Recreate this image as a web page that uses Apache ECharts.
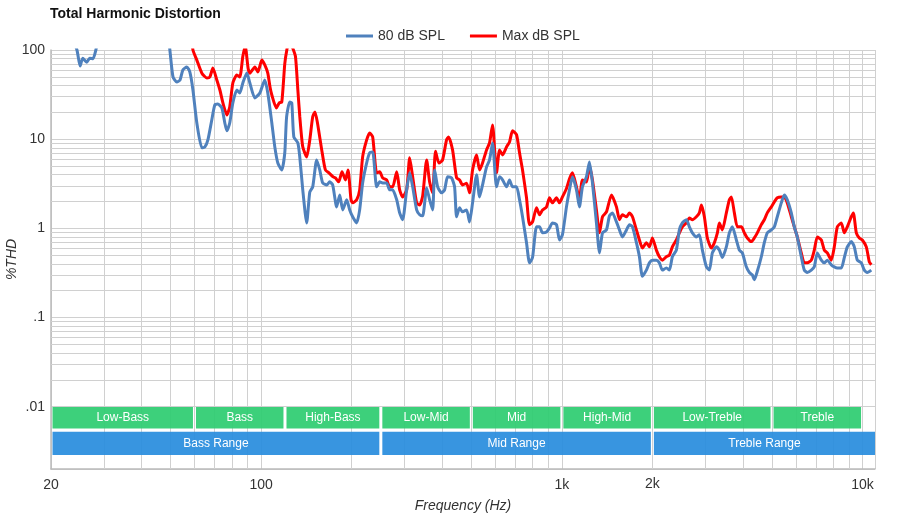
<!DOCTYPE html>
<html><head><meta charset="utf-8">
<script src="https://cdn.jsdelivr.net/npm/echarts@6/dist/echarts.min.js"></script>
<style>html,body{margin:0;padding:0;background:#fff}#c{width:900px;height:520px}</style>
</head><body><div id="c"></div>
<script>
const chartTitle = 'Total Harmonic Distortion';
const seriesNames = ['80 dB SPL', 'Max dB SPL'];
const xName = 'Frequency (Hz)';
const yName = '%THD';

// [frequency Hz, THD %]
const spl80 = [[20,400],[22,250],[23.5,140],[24.4,100],[25.0,66],[25.5,81],[26.3,73],[26.9,81],[27.6,80],[28.2,100],[29,150],[35,300],[45,300],[49,150],[49.7,100],[50.9,50],[52.4,43.8],[53.7,46],[54.9,59.7],[56.6,64.5],[57.9,56.7],[59.3,35.6],[61.1,15.2],[63.5,8.0],[65.0,8.2],[66.5,9.8],[68.5,16.4],[70.1,24.2],[71.7,24.8],[74.0,22.4],[75.7,15.2],[76.9,12.4],[78.6,15.2],[80.5,25.5],[83.0,35.6],[84.9,33.0],[86.9,42.7],[89.6,55.3],[91.7,42.7],[95.3,29.0],[99.0,33.0],[102.8,46.1],[105.2,33.0],[108.5,15.2],[111.0,8.2],[113.6,5.4],[117.1,4.5],[119.8,7.0],[121.5,17.8],[124.5,26.1],[126.4,25.5],[128.4,10.6],[132.4,9.1],[134.4,6.3],[137.5,2.7],[141.7,1.15],[145.1,2.56],[148.4,2.92],[153.0,5.85],[156.6,4.52],[160.2,3.23],[165.2,3.07],[169.0,3.32],[172.9,3.07],[178.3,1.74],[182.5,2.37],[186.7,1.61],[192.5,2.09],[197.0,1.61],[201.5,1.35],[207.8,1.15],[212.6,1.61],[217.5,3.23],[224.3,5.42],[229.5,7.02],[234.9,7.2],[242.1,2.92],[247.8,3.32],[253.5,3.23],[261.4,3.23],[267.5,2.7],[273.7,2.7],[282.3,2.09],[288.8,1.49],[295.5,1.25],[304.7,2.7],[311.8,4.19],[319.0,2.92],[328.9,1.61],[336.6,1.42],[344.4,1.38],[355.1,2.84],[363.3,2.09],[371.8,1.61],[377.5,4.52],[386.3,2.92],[398.1,2.5],[407.4,2.7],[416.8,3.78],[429.8,3.68],[439.8,2.92],[446.5,1.35],[456.9,1.7],[467.5,1.53],[482.0,1.61],[493.2,1.18],[504.7,1.93],[520.4,3.98],[532.4,2.25],[544.8,3.07],[561.8,4.89],[574.8,5.85],[588.1,9.08],[606.4,2.92],[620.5,3.78],[634.9,3.49],[654.6,2.92],[669.8,3.49],[685.4,2.92],[706.7,2.92],[723.1,2.09],[739.9,1.35],[762.9,0.69],[780.6,0.41],[798.7,0.47],[823.6,1.04],[842.7,1.04],[862.3,0.89],[888.9,0.91],[909.6,1.01],[930.7,1.15],[959.6,1.1],[981.9,0.74],[1004.6,0.85],[1035.9,1.74],[1060,2.7],[1084.5,3.78],[1118.3,2.7],[1144,1.74],[1170.6,2.92],[1207,3.78],[1235,5.56],[1264,3.23],[1303,1.15],[1334,0.53],[1365,0.89],[1407,0.96],[1440,1.38],[1473,1.49],[1519,1.18],[1554,0.96],[1590,0.8],[1640,0.96],[1678,1.1],[1717,1.04],[1770,0.69],[1811,0.48],[1853,0.29],[1910,0.34],[1955,0.41],[2000,0.44],[2062,0.44],[2110,0.41],[2159,0.34],[2226,0.36],[2278,0.34],[2331,0.48],[2403,0.57],[2459,0.96],[2516,1.15],[2595,1.25],[2655,1.04],[2717,0.89],[2801,0.8],[2866,0.85],[2933,0.57],[3024,0.37],[3094,0.34],[3166,0.53],[3265,0.62],[3340,0.57],[3418,0.47],[3524,0.62],[3606,0.89],[3690,1.04],[3805,0.74],[3893,0.57],[3983,0.53],[4107,0.37],[4202,0.32],[4300,0.3],[4366,0.265],[4467,0.33],[4606,0.48],[4713,0.69],[4822,0.89],[4972,0.96],[5088,1.04],[5206,1.35],[5367,1.93],[5492,2.37],[5619,2.09],[5795,1.49],[5930,1.04],[6067,0.8],[6256,0.48],[6402,0.34],[6550,0.32],[6754,0.34],[6911,0.37],[7072,0.53],[7292,0.44],[7461,0.41],[7635,0.44],[7873,0.39],[8055,0.37],[8242,0.36],[8499,0.36],[8697,0.47],[8898,0.62],[9175,0.71],[9389,0.62],[9607,0.44],[9906,0.41],[10135,0.34],[10370,0.32],[10693,0.34]];

const splMax = [[56,300],[58.5,160],[59.3,100],[61.1,77],[63.5,55],[66.0,48.6],[67.5,49.8],[69.1,62.9],[71.2,46.1],[72.9,35.6],[74.6,25.5],[76.9,18.7],[78.6,23.0],[80.5,42.7],[83.0,52.5],[84.9,49.8],[86.9,85],[88.5,110],[90.5,62],[91.7,55],[95.3,64.5],[97.5,56.7],[100.5,77],[102.8,68],[105.2,55],[107,38.5],[108.5,31.3],[112.3,22.4],[114.8,25.5],[117.1,26.1],[119.8,70],[121.7,100],[124.5,140],[127,108],[130,85],[132.4,36],[134.4,18],[137.5,8.2],[141.7,6.33],[145.1,9.8],[148.4,17.8],[151,20.2],[154,15],[159,7.58],[163.5,4.52],[168,4.19],[173.5,3.78],[176.6,3.68],[181,3.32],[185.7,4.3],[190.7,3.49],[194.5,4.52],[199,2.09],[201.5,1.93],[207.8,2.09],[212.6,2.7],[217.5,6.33],[224.3,9.8],[229.5,11.75],[234.9,10.6],[242.1,4.19],[247.8,4.3],[253.5,3.68],[261.4,3.49],[267.5,2.92],[273.7,2.92],[282.3,4.3],[288.8,2.7],[295.5,2.25],[304.7,2.7],[311.8,6.17],[319.0,3.78],[328.9,1.93],[336.6,1.83],[344.4,2.3],[355.1,5.85],[363.3,3.3],[371.8,2.5],[380,7.3],[390,5.4],[401,5.85],[413.5,9.8],[420,10.6],[433,7.58],[446.5,3.68],[456.9,3.49],[467.5,3.07],[482.0,3.2],[493.2,2.5],[504.7,4.52],[520.4,6.66],[532.4,4.52],[544.8,5.42],[561.8,7.58],[574.8,9.08],[588.1,14.45],[606.4,4.19],[620.5,7.58],[634.9,6.66],[654.6,8.18],[669.8,9.3],[685.4,12.4],[706.7,11.2],[723.1,7.02],[739.9,4.52],[762.9,2.2],[780.6,1.1],[798.7,1.18],[823.6,1.7],[842.7,1.42],[862.3,1.61],[888.9,1.74],[909.6,2.2],[930.7,1.93],[959.6,2.2],[981.9,1.93],[1004.6,2.25],[1035.9,2.8],[1060,3.6],[1084.5,4.19],[1118.3,2.92],[1144,2.09],[1170.6,3.49],[1207,3.3],[1235,5.0],[1264,3.49],[1303,1.61],[1334,0.89],[1365,1.35],[1407,1.53],[1462,2.37],[1519,1.74],[1554,1.25],[1590,1.42],[1640,1.35],[1678,1.49],[1717,1.35],[1770,0.96],[1811,0.74],[1853,0.6],[1910,0.69],[1955,0.62],[2000,0.78],[2062,0.57],[2110,0.48],[2159,0.44],[2226,0.48],[2278,0.5],[2331,0.62],[2403,0.74],[2459,0.89],[2516,1.04],[2595,1.15],[2655,1.31],[2717,1.25],[2801,1.35],[2866,1.49],[2911,1.83],[2978,1.35],[3047,0.78],[3142,0.6],[3215,0.69],[3290,0.89],[3340,1.15],[3418,0.96],[3524,1.49],[3606,2.09],[3662,2.25],[3747,1.49],[3834,1.04],[3953,1.04],[4045,0.89],[4138,0.78],[4267,0.71],[4366,0.78],[4467,0.89],[4606,1.1],[4713,1.25],[4822,1.49],[4972,1.74],[5088,1.98],[5206,2.2],[5367,2.25],[5492,2.25],[5619,1.93],[5795,1.35],[5930,1.04],[6067,0.8],[6256,0.53],[6402,0.41],[6550,0.41],[6754,0.44],[6911,0.57],[7072,0.8],[7292,0.74],[7461,0.57],[7635,0.53],[7873,0.44],[8055,0.62],[8242,1.04],[8499,1.15],[8697,0.89],[8898,1.04],[9175,1.35],[9318,1.49],[9534,0.89],[9755,0.78],[9981,0.74],[10292,0.62],[10530,0.42],[10693,0.39]];

// axis ticks and labels
const xMin = 20, xMax = 11000;
const yMin = 0.002, yMax = 100;
const xTickValues = [20, 100, 1000, 2000, 10000];
const xTickLabels = ['20', '100', '1k', '2k', '10k'];
const yTickValues = [100, 10, 1, 0.1, 0.01];
const yTickLabels = ['100', '10', '1', '.1', '.01'];

// frequency bands
const bandNames = ['Low-Bass', 'Bass', 'High-Bass', 'Low-Mid', 'Mid', 'High-Mid', 'Low-Treble', 'Treble'];
const bandEdges = [[20, 60], [60, 120], [120, 250], [250, 500], [500, 1000], [1000, 2000], [2000, 5000], [5000, 10000]];
const rangeNames = ['Bass Range', 'Mid Range', 'Treble Range'];
const rangeEdges = [[20, 250], [250, 2000], [2000, 11000]];

// --- build ---
const FONT = "'Liberation Sans', Arial, sans-serif";
const gridColor = '#d0d0d0';

function near(a, b) { return Math.abs(Math.log10(a) - Math.log10(b)) < 1e-4; }
function xFmt(v) { const i = xTickValues.findIndex(t => near(t, v)); return i >= 0 && xTickValues[i] !== 2000 ? xTickLabels[i] : ''; }
function yFmt(v) { const i = yTickValues.findIndex(t => near(t, v)); return i >= 0 ? yTickLabels[i] : ''; }

// minor grid values (2..9 x decade)
const xMinor = [], yMinor = [];
for (let e = 1; e <= 4; e++) for (let m = 2; m <= 9; m++) { const v = m * Math.pow(10, e); if (v > xMin && v < xMax) xMinor.push(v); }
for (let e = -2; e <= 1; e++) for (let m = 2; m <= 9; m++) { yMinor.push(+(m * Math.pow(10, e)).toPrecision(3)); }

const gridLines = xMinor.map(v => {
  const item = { xAxis: v };
  if (v === 2000) item.label = { show: true, position: 'start', formatter: xTickLabels[3], distance: 8, color: '#333', fontSize: 14, fontFamily: FONT };
  return item;
}).concat(yMinor.map(v => ({ yAxis: v })));

const inset = Math.pow(10, 0.005);
const gTop = 0.0099, gBot = 0.0057, bTop = 0.00525, bBot = 0.00287;
const greenStyle = { color: 'rgba(46,204,113,0.93)' };
const blueStyle = { color: 'rgba(41,141,222,0.93)' };
const areaLabel = { show: true, position: 'inside', color: '#fff', fontSize: 12, fontFamily: FONT, textBorderWidth: 0 };
const areas = [];
bandNames.forEach((n, i) => {
  areas.push([{ name: n, xAxis: bandEdges[i][0] * inset, yAxis: gTop, itemStyle: greenStyle, label: areaLabel },
              { xAxis: bandEdges[i][1] / inset, yAxis: gBot }]);
});
rangeNames.forEach((n, i) => {
  areas.push([{ name: n, xAxis: rangeEdges[i][0] * inset, yAxis: bTop, itemStyle: blueStyle, label: areaLabel },
              { xAxis: i === rangeNames.length - 1 ? rangeEdges[i][1] : rangeEdges[i][1] / inset, yAxis: bBot }]);
});

const chart = echarts.init(document.getElementById('c'), null, { renderer: 'canvas' });
chart.setOption({
  animation: false,
  backgroundColor: '#fff',
  textStyle: { fontFamily: FONT },
  title: { text: chartTitle, left: 45, top: 2, textStyle: { fontSize: 14, fontWeight: 'bold', color: '#111', fontFamily: FONT } },
  legend: {
    left: 341, top: 24, itemWidth: 27, itemHeight: 3, itemGap: 25, icon: 'rect',
    textStyle: { fontSize: 14, color: '#333', fontFamily: FONT },
    data: seriesNames
  },
  grid: { left: 51, right: 25, top: 50, bottom: 51, containLabel: false, outerBoundsMode: 'none' },
  xAxis: {
    type: 'log', min: xMin, max: xMax, logBase: 10,
    name: xName, nameLocation: 'middle', nameGap: 30, nameMoveOverlap: false,
    nameTextStyle: { fontStyle: 'italic', fontSize: 14, color: '#333', fontFamily: FONT },
    axisLine: { show: true, lineStyle: { color: '#bbb', width: 1.5 } },
    axisTick: { show: false },
    axisLabel: { formatter: xFmt, color: '#333', fontSize: 14, margin: 9, showMaxLabel: false, fontFamily: FONT },
    splitLine: { show: true, lineStyle: { color: gridColor, width: 1 } },
    minorTick: { show: false }, minorSplitLine: { show: false }
  },
  yAxis: {
    type: 'log', min: yMin, max: yMax, logBase: 10,
    name: yName, nameLocation: 'middle', nameGap: 32, nameRotate: 90, nameMoveOverlap: false,
    nameTextStyle: { fontStyle: 'italic', fontSize: 14, color: '#333', fontFamily: FONT },
    axisLine: { show: true, lineStyle: { color: '#bbb', width: 1.5 } },
    axisTick: { show: false },
    axisLabel: { formatter: yFmt, color: '#333', fontSize: 14, margin: 6, showMinLabel: false, fontFamily: FONT },
    splitLine: { show: true, lineStyle: { color: gridColor, width: 1 } }
  },
  series: [
    {
      name: 'grid', type: 'line', data: [], silent: true, z: 1,
      markLine: {
        silent: true, z: 1, symbol: ['none', 'none'], animation: false,
        label: { show: false },
        lineStyle: { type: 'solid', color: gridColor, width: 1 },
        emphasis: { disabled: true },
        data: gridLines
      }
    },
    {
      name: 'bands', type: 'line', data: [], silent: true, z: 2,
      markArea: { silent: true, z: 2, animation: false, emphasis: { disabled: true }, data: areas }
    },
    {
      name: seriesNames[1], type: 'line', data: splMax, showSymbol: false, smooth: 0.2, z: 3,
      lineStyle: { color: '#ff0000', width: 3 }, itemStyle: { color: '#ff0000' }, clip: true
    },
    {
      name: seriesNames[0], type: 'line', data: spl80, showSymbol: false, smooth: 0.2, z: 4,
      lineStyle: { color: '#4f81bd', width: 3 }, itemStyle: { color: '#4f81bd' }, clip: true
    }
  ]
});
</script></body></html>
